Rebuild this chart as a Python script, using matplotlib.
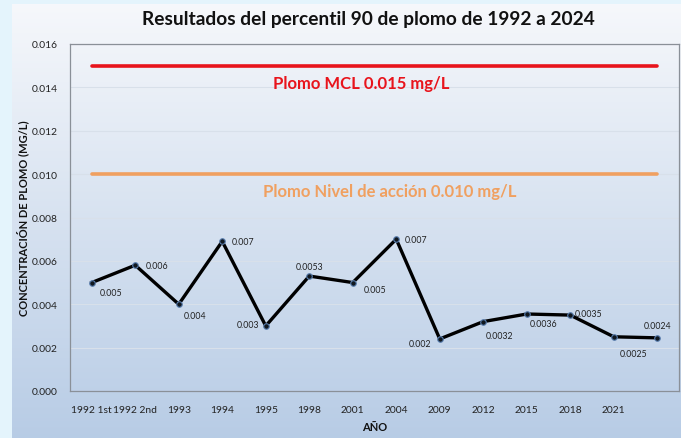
import matplotlib
matplotlib.use("Agg")
import matplotlib.pyplot as plt
import numpy as np

categories = ["1992 1st", "1992 2nd", "1993", "1994", "1995", "1998", "2001",
              "2004", "2009", "2012", "2015", "2018", "2021", ""]
values = [0.005, 0.0058, 0.004, 0.0069, 0.003, 0.0053, 0.005,
          0.007, 0.0024, 0.0032, 0.00355, 0.0035, 0.0025, 0.00245]
labels = ["0.005", "0.006", "0.004", "0.007", "0.003", "0.0053", "0.005",
          "0.007", "0.002", "0.0032", "0.0036", "0.0035", "0.0025", "0.0024"]
label_offsets = [(14, -7), (16, 0), (12, -8), (15, 0), (-13, 1), (0, 7), (16, -5),
                 (14, 0), (-14, -3), (12, -10), (12, -7), (13, 1), (14, -12), (0, 9)]
mcl = 0.015
action = 0.010
mcl_text = "Plomo MCL 0.015 mg/L"
action_text = "Plomo Nivel de acción 0.010 mg/L"
title = "Resultados del percentil 90 de plomo de 1992 a 2024"

plt.rcParams['font.family'] = ['Lato', 'DejaVu Sans']

W, H = 681, 439
fig = plt.figure(figsize=(W / 100, H / 100), dpi=100)
fig.patch.set_facecolor("#e4f4fc")

# gradient background for chart area
bg = fig.add_axes([12 / W, 0, 1 - 12 / W, 1 - 5 / H])
grad = np.linspace(0, 1, 256).reshape(-1, 1)
top = np.array([0.965, 0.972, 0.985])
bot = np.array([0.72, 0.80, 0.90])
img = top[None, None, :] * (1 - grad[:, :, None]) + bot[None, None, :] * grad[:, :, None]
bg.imshow(img, aspect="auto", extent=[0, 1, 0, 1], origin="upper")
bg.set_axis_off()

ax = fig.add_axes([70 / W, 1 - 392 / H, (679 - 70) / W, (392 - 45) / H])
ax.patch.set_alpha(0)
x = np.arange(len(categories))
ax.set_xlim(-0.5, len(categories) - 0.5)
ax.set_ylim(0, 0.016)
ax.set_yticks(np.arange(0, 0.0161, 0.002))
ax.set_yticklabels([f"{v:.3f}" for v in np.arange(0, 0.0161, 0.002)])
ax.set_xticks(x)
ax.set_xticklabels(categories)
ax.tick_params(axis="both", length=0, labelsize=7.4, colors="#222222")
ax.tick_params(axis="x", pad=10)
ax.tick_params(axis="y", pad=9)
ax.grid(axis="y", color="#d8e0ea", linewidth=0.8)
ax.set_axisbelow(True)
for s in ax.spines.values():
    s.set_color("#8a9098")
    s.set_linewidth(0.9)

ax.plot([x[0], x[-1]], [mcl, mcl], color="#e8141c", linewidth=2.6, solid_capstyle="round")
ax.plot([x[0], x[-1]], [action, action], color="#f0a060", linewidth=2.6, solid_capstyle="round")
ax.text(6.2, 0.0142, mcl_text, color="#e8141c", fontsize=12, fontweight="bold",
        ha="center", va="center")
ax.text(6.85, 0.0092, action_text, color="#f0a060", fontsize=12, fontweight="bold",
        ha="center", va="center")

ax.plot(x, values, color="black", linewidth=2.4, marker="o", markersize=4,
        markerfacecolor="#101820", markeredgecolor="#5a7fb0", markeredgewidth=0.8)
for xi, v, lab, off in zip(x, values, labels, label_offsets):
    ax.annotate(lab, (xi, v), xytext=off, textcoords="offset points",
                ha="center", va="center", fontsize=6.3, color="#222222")

ax.set_xlabel("AÑO", fontsize=8, fontweight="bold", labelpad=5, color="#111111")
ax.set_ylabel("CONCENTRACIÓN DE PLOMO (MG/L)", fontsize=8, fontweight="bold",
              labelpad=2, color="#111111")

fig.text(368 / W, 1 - 20 / H, title, fontsize=13.8, fontweight="bold",
         ha="center", va="center", color="#111111")

fig.savefig("out.png", dpi=100, facecolor=fig.get_facecolor())
